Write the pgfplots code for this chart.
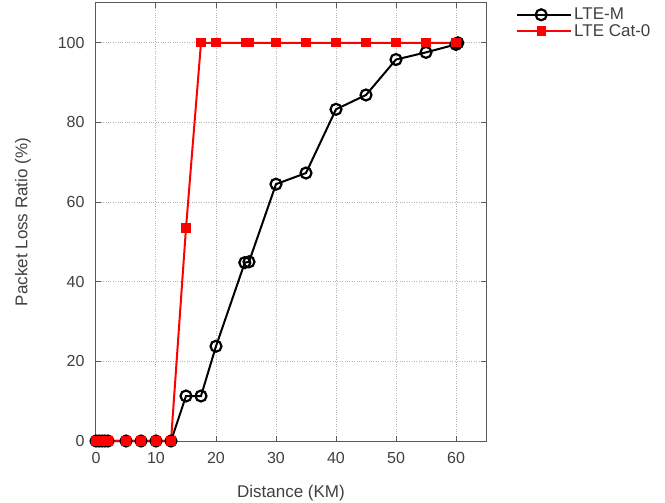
\documentclass[border=0pt]{standalone}
\usepackage{fontspec}
\setmainfont{Liberation Sans}
\usepackage{pgfplots}
\pgfplotsset{compat=1.18}
\definecolor{txt}{RGB}{64,64,64}
\definecolor{axgray}{RGB}{90,90,90}
\begin{document}
\begin{tikzpicture}
\path[use as bounding box] (-96bp,-62bp) rectangle (569bp,441bp);
\begin{axis}[
  scale only axis,
  width=390bp, height=438bp,
  xmin=0, xmax=65, ymin=0, ymax=110,
  xtick={0,10,...,60}, ytick={0,20,...,100},
  tick align=inside,
  major tick length=5bp,
  axis line style={axgray, line width=1bp},
  every tick/.style={axgray, line width=1bp},
  grid=major,
  major grid style={gray!60, dotted, line width=1bp},
  clip=false,
  /pgf/number format/assume math mode=true,
  font=\fontsize{16bp}{19bp}\selectfont\color{txt},
  tick label style={font=\fontsize{16bp}{19bp}\selectfont\color{txt}},
  xticklabel style={yshift=-8bp},
  yticklabel style={xshift=-8bp},
  xlabel={Distance (KM)},
  ylabel={Packet Loss Ratio (\%)},
  label style={font=\fontsize{17bp}{20bp}\selectfont\color{txt}},
  xlabel style={yshift=-14bp},
  ylabel style={yshift=20bp},
  legend style={at={(1,1)}, anchor=north west, xshift=27bp, yshift=-1bp, draw=none, fill=none,
    font=\fontsize{17bp}{20bp}\selectfont\color{txt}, row sep=-1bp},
  legend cell align=left,
  legend image code/.code={\path (0bp,0bp) -- (54bp,0bp);\draw[mark repeat=2,mark phase=2,#1] plot coordinates {(0bp,0bp) (24bp,0bp) (48bp,0bp)};},
]
\addplot[black, line width=2bp, mark=o, mark size=5.5bp, mark options={fill=white, line width=2.2bp, solid}] coordinates {
(0,0)(0.5,0)(1,0)(1.5,0)(2,0)(5,0)(7.5,0)(10,0)(12.5,0)(15,11.3)(17.5,11.3)(20,23.8)(24.8,44.8)(25.5,45)(30,64.5)(35,67.3)(40,83.3)(45,86.9)(50,95.8)(55,97.6)(60,99.6)(60.3,100)
};
\addlegendentry{LTE-M}
\addplot[red, line width=2bp, mark=square*, mark size=3.6bp, mark options={solid, fill=red}] coordinates {
(0,0)(0.5,0)(1,0)(1.5,0)(2,0)(5,0)(7.5,0)(10,0)(12.5,0)(15,53.5)(17.5,100)(20,100)(25,100)(25.5,100)(30,100)(35,100)(40,100)(45,100)(50,100)(55,100)(60,100)
};
\addlegendentry{LTE Cat-0}
\end{axis}
\end{tikzpicture}
\end{document}
